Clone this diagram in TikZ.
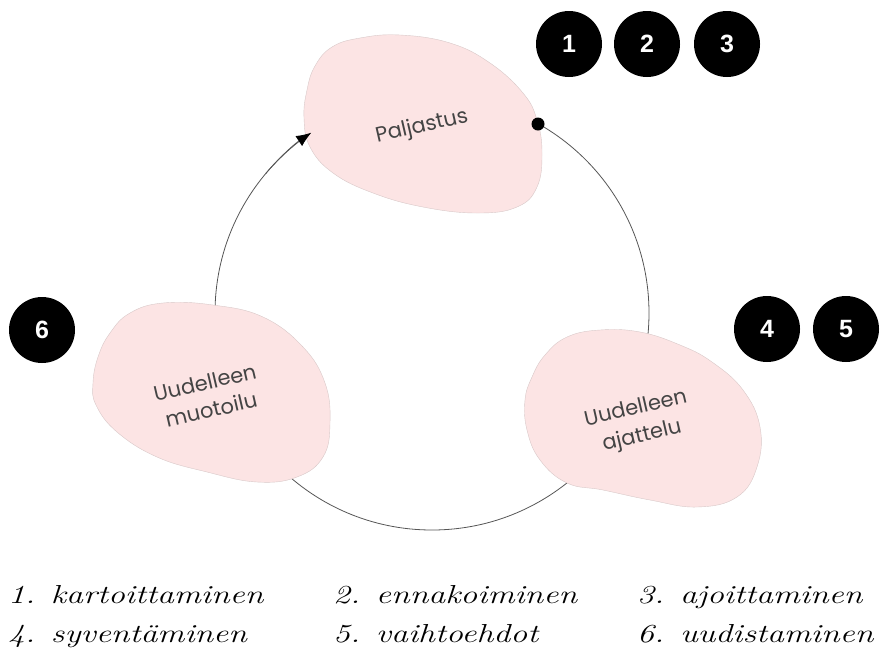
\documentclass[tikz,border=0pt]{standalone}
\usepackage{fontspec}
\setmainfont{Latin Modern Roman}
\newfontfamily\blobfont{Poppins}
\newfontfamily\numfont{Liberation Sans}
\usetikzlibrary{arrows.meta}
\definecolor{blobpink}{HTML}{FCE4E4}
\definecolor{blobedge}{HTML}{D8C8C8}
\definecolor{ringgray}{HTML}{555555}
\definecolor{labelgray}{HTML}{444444}
\tikzset{
  blob/.style={fill=blobpink, draw=blobedge, line width=0.4pt},
  ring/.style={draw=ringgray, line width=0.8pt},
  bloblabel/.style={font=\blobfont\fontsize{21}{28}\selectfont, text=labelgray, align=center, rotate=13},
  numdot/.style={circle, fill=black, minimum size=66pt, inner sep=0pt, text=white, font=\numfont\bfseries\fontsize{25}{25}\selectfont},
  listitem/.style={anchor=base west, font=\itshape\fontsize{26}{30}\selectfont, inner sep=0pt}
}
\newcommand{\wide}[1]{\scalebox{1.3}[1]{#1}}
\begin{document}
\begin{tikzpicture}[x=1pt,y=-1pt]
\useasboundingbox (0,0) rectangle (890,657);
\coordinate (c) at (432,313);
% ring
\draw[ring] (c) circle[radius=217pt];
% blobs
\draw[blob] plot[smooth cycle, tension=0.7] coordinates {(332,47) (360,38) (400,35) (450,43) (490,63) (523,93) (537,120) (542,153) (537,187) (517,207) (477,213) (423,207) (373,193) (333,173) (310,147) (304,118) (307,90) (315,66)};
\draw[blob] plot[smooth cycle, tension=0.7] coordinates {(163,303) (213,305) (263,317) (303,347) (325,383) (330,423) (323,457) (297,477) (257,482) (207,472) (157,457) (117,432) (96,405) (93,383) (98,357) (110,333) (130,313)};
\draw[blob] plot[smooth cycle, tension=0.7] coordinates {(567,337) (600,330) (640,332) (680,345) (712,362) (743,390) (760,427) (757,467) (737,497) (697,507) (650,500) (603,490) (567,483) (540,460) (527,430) (525,400) (532,377) (545,355)};
% arrow and start dot
\draw[ring, -{Latex[length=15pt,width=12pt,fill=black,color=black]}] (c) ++(140:217pt) arc[start angle=140, end angle=123.8, radius=217pt];
\fill (538,124) circle[radius=6.5pt];
% labels
\node[bloblabel] (p) at (422,127) {Paljastus};
\node[bloblabel] (m) at (208,396) {Uudelleen\\muotoilu};
\node[bloblabel] (a) at (639,423) {Uudelleen\\ajattelu};
% number dots
\node[numdot] (n1) at (569,44) {1};
\node[numdot] (n2) at (647,44) {2};
\node[numdot] (n3) at (727,44) {3};
\node[numdot] (n4) at (767,329) {4};
\node[numdot] (n5) at (846,329) {5};
\node[numdot] (n6) at (42,330) {6};
% list
\node[listitem] (l1) at (8,603) {\wide{1. kartoittaminen}};
\node[listitem] (l2) at (333,603) {\wide{2. ennakoiminen}};
\node[listitem] (l3) at (637,603) {\wide{3. ajoittaminen}};
\node[listitem] (l4) at (8,642) {\wide{4. syventäminen}};
\node[listitem] (l5) at (333,642) {\wide{5. vaihtoehdot}};
\node[listitem] (l6) at (637,642) {\wide{6. uudistaminen}};
\end{tikzpicture}
\end{document}
